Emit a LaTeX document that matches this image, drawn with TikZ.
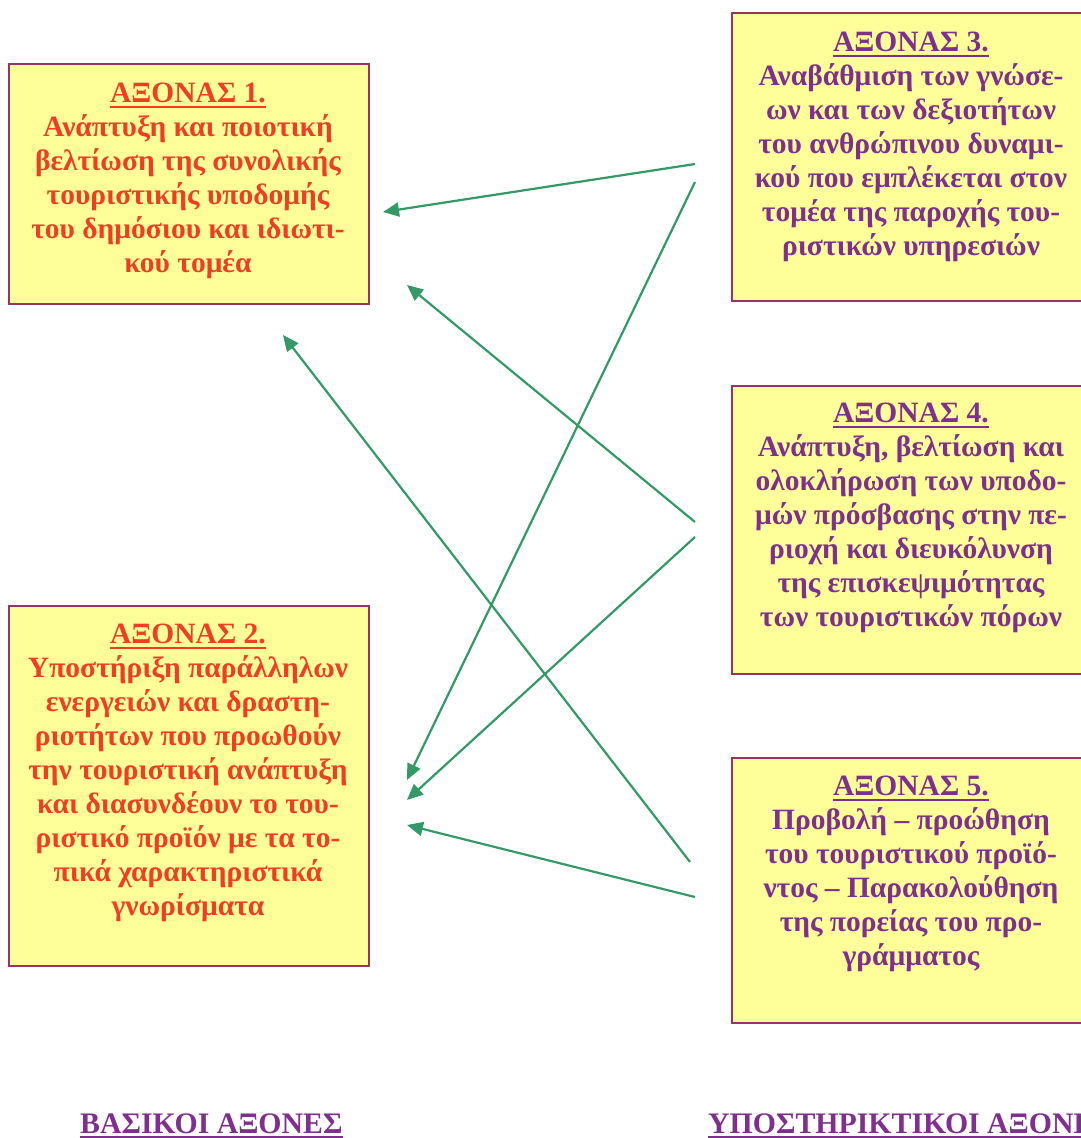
\documentclass[tikz,border=0pt]{standalone}
\usepackage{fontspec}
\setmainfont{Liberation Serif}
\usetikzlibrary{arrows.meta}
\definecolor{boxfill}{HTML}{FFFF99}
\definecolor{boxline}{HTML}{993366}
\definecolor{redtxt}{HTML}{F23D22}
\definecolor{purtxt}{HTML}{7F2F8E}
\definecolor{arrowgreen}{HTML}{339966}
\newcommand{\ulthick}[1]{\leavevmode\vtop{\hbox{#1}\kern2.5pt\hrule height 2pt}}
\begin{document}
\begin{tikzpicture}[x=1pt,y=-1pt,
  axbox/.style={draw=boxline, line width=2pt, fill=boxfill, minimum width=360pt, inner sep=0pt, anchor=north west},
  axtext/.style={align=center, font=\bfseries\fontsize{29.5}{34}\selectfont, anchor=north, inner sep=0pt},
  link/.style={draw=arrowgreen, line width=2.2pt, -{Triangle[length=16pt,width=14pt]}},
  footlabel/.style={font=\bfseries\fontsize{29.8}{34}\selectfont, text=purtxt, anchor=base west, inner sep=0pt}
]
\useasboundingbox (0,0) rectangle (1081,1138);
\clip (0,0) rectangle (1081,1138);

% boxes
\node[axbox, minimum height=240pt] (b1) at (8,63) {};
\node[axbox, minimum height=360pt] (b2) at (8,605) {};
\node[axbox, minimum height=288pt] (b3) at (731,12) {};
\node[axbox, minimum height=288pt] (b4) at (731,385) {};
\node[axbox, minimum height=265pt] (b5) at (731,757) {};

% texts
\node[axtext, text=redtxt] (t1) at (188,83) {\ulthick{ΑΞΟΝΑΣ 1.}\\Ανάπτυξη και ποιοτική\\βελτίωση της συνολικής\\τουριστικής υποδομής\\του δημόσιου και ιδιωτι-\\κού τομέα};
\node[axtext, text=redtxt] (t2) at (188,624) {\ulthick{ΑΞΟΝΑΣ 2.}\\Υποστήριξη παράλληλων\\ενεργειών και δραστη-\\ριοτήτων που προωθούν\\την τουριστική ανάπτυξη\\και διασυνδέουν το του-\\ριστικό προϊόν με τα το-\\πικά χαρακτηριστικά\\γνωρίσματα};
\node[axtext, text=purtxt] (t3) at (911,32) {\ulthick{ΑΞΟΝΑΣ 3.}\\Αναβάθμιση των γνώσε-\\ων και των δεξιοτήτων\\του ανθρώπινου δυναμι-\\κού που εμπλέκεται στον\\τομέα της παροχής του-\\ριστικών υπηρεσιών};
\node[axtext, text=purtxt] (t4) at (911,403) {\ulthick{ΑΞΟΝΑΣ 4.}\\Ανάπτυξη, βελτίωση και\\ολοκλήρωση των υποδο-\\μών πρόσβασης στην πε-\\ριοχή και διευκόλυνση\\της επισκεψιμότητας\\των τουριστικών πόρων};
\node[axtext, text=purtxt] (t5) at (911,776) {\ulthick{ΑΞΟΝΑΣ 5.}\\Προβολή – προώθηση\\του τουριστικού προϊό-\\ντος – Παρακολούθηση\\της πορείας του προ-\\γράμματος};

% footer labels
\node[footlabel] (f1) at (80,1133) {\ulthick{ΒΑΣΙΚΟΙ ΑΞΟΝΕΣ}};
\node[footlabel] (f2) at (708,1133) {\ulthick{ΥΠΟΣΤΗΡΙΚΤΙΚΟΙ ΑΞΟΝΕΣ}};

% connector ends
\coordinate (s31) at (695,164); \coordinate (e31) at (383,212);
\coordinate (s32) at (695,182); \coordinate (e32) at (407,780);
\coordinate (s41) at (695,522); \coordinate (e41) at (407,285);
\coordinate (s42) at (695,537); \coordinate (e42) at (407,800);
\coordinate (s51) at (690,862); \coordinate (e51) at (283,335);
\coordinate (s52) at (695,897); \coordinate (e52) at (407,825);

\draw[link] (s31) -- (e31);
\draw[link] (s32) -- (e32);
\draw[link] (s41) -- (e41);
\draw[link] (s42) -- (e42);
\draw[link] (s51) -- (e51);
\draw[link] (s52) -- (e52);
\end{tikzpicture}
\end{document}
